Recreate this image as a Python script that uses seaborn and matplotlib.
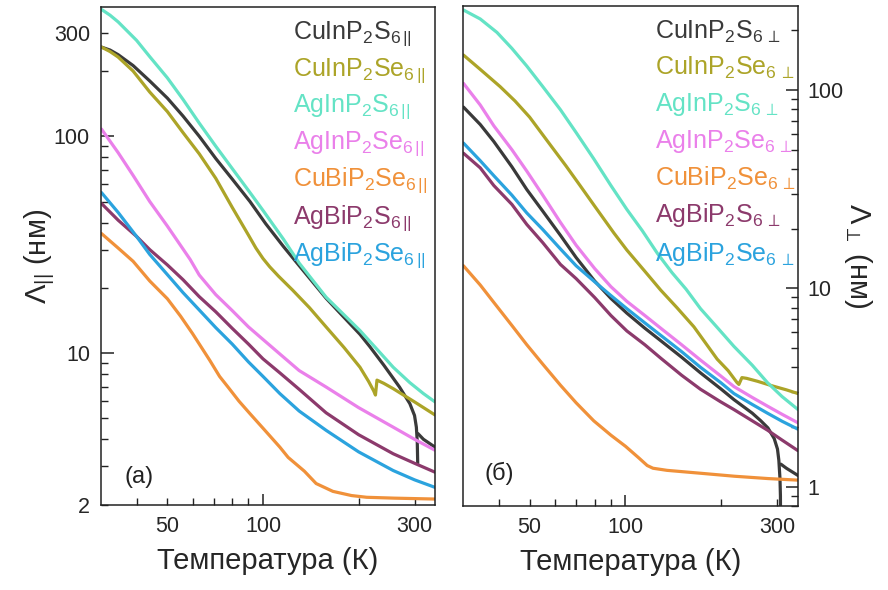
import matplotlib
matplotlib.use("Agg")
import matplotlib.pyplot as plt
import seaborn as sns
import pandas as pd
from matplotlib.ticker import FixedLocator, FuncFormatter

# ---------------- data ----------------
names = ["CuInP2S6", "CuInP2Se6", "AgInP2S6", "AgInP2Se6", "CuBiP2Se6", "AgBiP2S6", "AgBiP2Se6"]
colors = ["#3a3a3a", "#aca428", "#64e3c5", "#ea80ea", "#f0913a", "#8c3a6c", "#2ba3de"]
labels_par = ["CuInP$_2$S$_{6\\,||}$", "CuInP$_2$Se$_{6\\,||}$", "AgInP$_2$S$_{6\\,||}$",
              "AgInP$_2$Se$_{6\\,||}$", "CuBiP$_2$Se$_{6\\,||}$", "AgBiP$_2$S$_{6\\,||}$",
              "AgBiP$_2$Se$_{6\\,||}$"]
labels_perp = ["CuInP$_2$S$_{6\\,\\perp}$", "CuInP$_2$Se$_{6\\,\\perp}$", "AgInP$_2$S$_{6\\,\\perp}$",
               "AgInP$_2$Se$_{6\\,\\perp}$", "CuBiP$_2$Se$_{6\\,\\perp}$", "AgBiP$_2$S$_{6\\,\\perp}$",
               "AgBiP$_2$Se$_{6\\,\\perp}$"]

# parallel (panel a)
T_par_CIPS = [31, 33, 35, 39, 44, 50, 56, 63, 71, 80, 91, 102, 116, 130, 158, 180, 202, 217, 240, 269, 290, 300, 304, 306, 307]
L_par_CIPS = [258, 250, 238, 212, 180, 150, 124, 100, 79, 63.5, 50, 39.5, 31, 25.3, 17.9, 14.6, 12.2, 10.7, 8.8, 6.97, 5.84, 5.15, 4.55, 3.9, 3.1]
T_par_CIPS_hi = [307.5, 320, 348]
L_par_CIPS_hi = [4.25, 4.0, 3.68]
T_par_CIPSe = [31, 33, 35, 39, 44, 50, 56, 63, 71, 80, 90, 95, 100, 105, 112, 124, 140, 158, 180, 202, 215, 223, 226, 228.5, 240, 257, 300, 348]
L_par_CIPSe = [258, 246, 232, 200, 160, 130, 104, 83, 64, 47, 35, 30.5, 27.3, 25, 22.6, 19.5, 16.2, 13.2, 10.6, 8.6, 7.4, 6.7, 6.4, 7.5, 7.25, 6.85, 5.95, 5.18]
T_par_AIPS = [31, 33, 35, 40, 44, 50, 56, 63, 71, 80, 91, 100, 116, 130, 158, 180, 202, 230, 257, 290, 320, 348]
L_par_AIPS = [385, 362, 337, 277, 233, 186, 148, 115, 90, 71, 55, 45.5, 33.5, 26, 18.1, 15, 12.7, 10.3, 8.6, 7.3, 6.5, 5.95]
T_par_AIPSe = [31, 35, 39, 44, 50, 59, 63, 71, 80, 90, 98, 113, 130, 158, 200, 257, 300, 348]
L_par_AIPSe = [108, 84, 66, 50, 38.5, 27, 22.9, 18.6, 15.7, 13.2, 11.85, 9.9, 8.3, 6.97, 5.6, 4.55, 4.0, 3.56]
T_par_CBPSe = [31, 35, 39, 44, 50, 55, 60, 68, 73, 78, 84, 91, 100, 113, 120, 135, 147, 166, 190, 212, 260, 348]
L_par_CBPSe = [35.6, 30.5, 26.5, 21.5, 17.8, 14.8, 12.3, 9.25, 7.8, 6.9, 6.0, 5.25, 4.5, 3.68, 3.3, 2.85, 2.5, 2.3, 2.2, 2.16, 2.14, 2.12]
T_par_ABPS = [31, 35, 40, 44, 50, 56, 63, 71, 80, 90, 100, 113, 130, 158, 200, 257, 300, 348]
L_par_ABPS = [49, 41, 34.5, 30, 25.5, 21.8, 18.2, 15.5, 13, 11, 9.4, 8.1, 6.8, 5.3, 4.2, 3.43, 3.1, 2.82]
T_par_ABPSe = [31, 35, 40, 44, 50, 56, 63, 71, 80, 90, 100, 113, 130, 158, 200, 257, 300, 348]
L_par_ABPSe = [55, 44.5, 34.5, 28.5, 23, 19, 15.8, 13.1, 11.0, 9.1, 7.8, 6.5, 5.4, 4.4, 3.5, 2.87, 2.6, 2.4]

# perpendicular (panel b)
T_perp_CIPS = [31, 35, 38.6, 44, 49, 55, 62.5, 70, 80, 90, 101, 115, 129, 150, 172, 199, 219, 250, 266, 280, 293, 300, 303, 305.5, 306.5, 307]
L_perp_CIPS = [82, 67, 55, 41, 31.5, 24.5, 18.5, 14.3, 10.9, 8.9, 7.5, 6.3, 5.45, 4.5, 3.75, 3.12, 2.75, 2.35, 2.15, 1.98, 1.75, 1.55, 1.36, 1.1, 0.9, 0.5]
T_perp_CIPS_hi = [307.5, 320, 348]
L_perp_CIPS_hi = [1.3, 1.24, 1.14]
T_perp_CIPSe = [31, 35, 40.4, 45, 50, 58, 65, 72, 80, 92, 101, 115, 129, 145, 164, 180, 194, 210, 224, 227, 232, 240, 260, 290, 320, 348]
L_perp_CIPSe = [150, 127, 104, 88, 73, 53, 41.5, 33, 26, 19, 15.6, 12.2, 9.8, 8.0, 6.4, 5.2, 4.4, 3.85, 3.35, 3.28, 3.55, 3.52, 3.4, 3.22, 3.08, 2.95]
T_perp_AIPS = [31, 35, 39.5, 44, 49, 55, 62.5, 70, 79.5, 90, 101, 113, 126, 140, 155, 172, 195, 219, 250, 279, 310, 348]
L_perp_AIPS = [253, 228, 195, 162, 132, 104, 79.5, 61, 45, 33, 25, 19.5, 15, 12, 9.9, 7.9, 6.3, 5.1, 4.1, 3.35, 2.85, 2.45]
T_perp_common = [31, 35, 38.6, 44, 49, 55, 62.5, 70, 80, 90, 101, 115, 129, 150, 172, 199, 219, 250, 279, 310, 348]
L_perp_AIPSe = [108, 84, 66, 50, 39, 29.5, 21.5, 16.5, 12.6, 10.2, 8.6, 7.3, 6.3, 5.2, 4.35, 3.62, 3.2, 2.82, 2.55, 2.32, 2.1]
L_perp_ABPS = [48, 40.5, 33, 26.5, 21, 17, 13.2, 11.2, 9.0, 7.3, 6.1, 5.2, 4.45, 3.65, 3.1, 2.68, 2.45, 2.15, 1.93, 1.72, 1.52]
L_perp_ABPSe = [54, 44, 37, 29.5, 24, 19.8, 15.8, 13, 10.8, 9.2, 7.9, 6.7, 5.8, 4.8, 4.0, 3.35, 2.95, 2.6, 2.35, 2.14, 1.95]
T_perp_CBPSe = [31, 35, 38.6, 44, 49, 55, 62.5, 70, 79.5, 90, 100, 110, 117, 122, 135, 172, 220, 280, 348]
L_perp_CBPSe = [13, 10.4, 8.5, 6.5, 5.2, 4.15, 3.25, 2.65, 2.15, 1.82, 1.6, 1.4, 1.28, 1.24, 1.21, 1.17, 1.13, 1.1, 1.08]


def build(series):
    rows = []
    for name, seg, T, L in series:
        for t, l in zip(T, L):
            rows.append({"name": name, "seg": f"{name}-{seg}", "T": t, "L": l})
    return pd.DataFrame(rows)


df_par = build([
    ("CuInP2S6", 0, T_par_CIPS, L_par_CIPS),
    ("CuInP2S6", 1, T_par_CIPS_hi, L_par_CIPS_hi),
    ("CuInP2Se6", 0, T_par_CIPSe, L_par_CIPSe),
    ("AgInP2S6", 0, T_par_AIPS, L_par_AIPS),
    ("AgInP2Se6", 0, T_par_AIPSe, L_par_AIPSe),
    ("CuBiP2Se6", 0, T_par_CBPSe, L_par_CBPSe),
    ("AgBiP2S6", 0, T_par_ABPS, L_par_ABPS),
    ("AgBiP2Se6", 0, T_par_ABPSe, L_par_ABPSe),
])
df_perp = build([
    ("CuInP2S6", 0, T_perp_CIPS, L_perp_CIPS),
    ("CuInP2S6", 1, T_perp_CIPS_hi, L_perp_CIPS_hi),
    ("CuInP2Se6", 0, T_perp_CIPSe, L_perp_CIPSe),
    ("AgInP2S6", 0, T_perp_AIPS, L_perp_AIPS),
    ("AgInP2Se6", 0, T_perp_common, L_perp_AIPSe),
    ("CuBiP2Se6", 0, T_perp_CBPSe, L_perp_CBPSe),
    ("AgBiP2S6", 0, T_perp_common, L_perp_ABPS),
    ("AgBiP2Se6", 0, T_perp_common, L_perp_ABPSe),
])

# ---------------- style ----------------
sns.set_style("ticks")
plt.rcParams["font.family"] = ["Liberation Sans", "DejaVu Sans"]
plt.rcParams["mathtext.fontset"] = "custom"
plt.rcParams["mathtext.rm"] = "Liberation Sans"
plt.rcParams["mathtext.it"] = "Liberation Sans:italic"
plt.rcParams["mathtext.bf"] = "Liberation Sans:bold"
plt.rcParams["mathtext.default"] = "regular"

palette = dict(zip(names, colors))
W, H = 888, 590
fig = plt.figure(figsize=(W / 100, H / 100), dpi=100)
axL = fig.add_axes([101 / W, 1 - 505 / H, 334 / W, 498 / H])
axR = fig.add_axes([463 / W, 1 - 506 / H, 335 / W, 500 / H])

for ax, df in ((axL, df_par), (axR, df_perp)):
    sns.lineplot(data=df, x="T", y="L", hue="name", hue_order=names, units="seg",
                 estimator=None, sort=False, palette=palette, linewidth=2.3,
                 legend=False, ax=ax)
    for ln in ax.lines:
        ln.set_solid_joinstyle("round")
        ln.set_solid_capstyle("round")
    ax.set_xscale("log")
    ax.set_yscale("log")
    ax.set_xlim(30.9, 348)
    for sp in ax.spines.values():
        sp.set_linewidth(1.1)
        sp.set_color("#222222")


def fmt_keep(vals):
    return FuncFormatter(lambda v, p: (f"{v:g}" if any(abs(v - k) < 1e-6 * k for k in vals) else ""))


TICK_FS = 15.5
for ax in (axL, axR):
    ax.xaxis.set_major_locator(FixedLocator([100]))
    ax.xaxis.set_minor_locator(FixedLocator([40, 50, 60, 70, 80, 90, 200, 300]))
    ax.xaxis.set_major_formatter(fmt_keep([100]))
    ax.xaxis.set_minor_formatter(fmt_keep([50, 300]))
    ax.tick_params(axis="x", which="both", direction="in", top=False, bottom=True,
                   labelsize=TICK_FS, pad=8, color="#222222")
    ax.tick_params(axis="x", which="major", length=8, width=1.1)
    ax.tick_params(axis="x", which="minor", length=5, width=1.0)

# left y axis
axL.set_ylim(1.99, 395)
axL.yaxis.set_major_locator(FixedLocator([10, 100]))
axL.yaxis.set_minor_locator(FixedLocator([2, 3, 4, 5, 6, 7, 8, 9, 20, 30, 40, 50, 60, 70, 80, 90, 200, 300]))
axL.yaxis.set_major_formatter(fmt_keep([10, 100]))
axL.yaxis.set_minor_formatter(fmt_keep([2, 300]))
axL.tick_params(axis="y", which="both", direction="in", left=True, right=False,
                labelsize=TICK_FS, pad=8, color="#222222")
axL.tick_params(axis="y", which="major", length=9, width=1.1)
axL.tick_params(axis="y", which="minor", length=5, width=1.0)

# right y axis
axR.set_ylim(0.8, 265)
axR.yaxis.tick_right()
axR.yaxis.set_label_position("right")
axR.yaxis.set_major_locator(FixedLocator([1, 10, 100]))
axR.yaxis.set_minor_locator(FixedLocator([0.8, 0.9, 2, 3, 4, 5, 6, 7, 8, 9, 20, 30, 40, 50, 60, 70, 80, 90, 200]))
axR.yaxis.set_major_formatter(fmt_keep([1, 10, 100]))
axR.yaxis.set_minor_formatter(fmt_keep([]))
axR.tick_params(axis="y", which="both", direction="in", left=False, right=True,
                labelleft=False, labelright=True, labelsize=TICK_FS, pad=7, color="#222222")
axR.tick_params(axis="y", which="major", length=9, width=1.1)
axR.tick_params(axis="y", which="minor", length=5, width=1.0)

# axis labels
LAB_FS = 21
for ax in (axL, axR):
    ax.set_xlabel("Температура (К)", fontsize=LAB_FS)
    ax.xaxis.set_label_coords(0.5, -0.085)
axL.set_ylabel("Λ$_{||}$ (нм)", fontsize=LAB_FS, va="center")
axL.yaxis.set_label_coords((40 - 101) / 334, 0.5)
axR.set_ylabel("Λ$_{\\perp}$ (нм)", fontsize=LAB_FS, rotation=270, va="center")
axR.yaxis.set_label_coords((858 - 463) / 335, 0.5)

# panel labels
axL.text((139 - 101) / 334, (505 - 477) / 498, "(а)", transform=axL.transAxes,
         fontsize=17, ha="center", va="center", color="#222222")
axR.text((499 - 463) / 335, (506 - 473) / 500, "(б)", transform=axR.transAxes,
         fontsize=17, ha="center", va="center", color="#222222")

# coloured legend texts
LEG_FS = 18
base_par = [39, 76, 112, 149, 186, 224, 261]
base_perp = [39, 75, 111, 148, 186, 222, 261]
for lab, c, yb in zip(labels_par, colors, base_par):
    fig.text(293 / W, 1 - yb / H, lab, color=c, fontsize=LEG_FS, ha="left", va="baseline")
for lab, c, yb in zip(labels_perp, colors, base_perp):
    fig.text(655 / W, 1 - yb / H, lab, color=c, fontsize=LEG_FS, ha="left", va="baseline")

fig.savefig("out.png", dpi=100)
